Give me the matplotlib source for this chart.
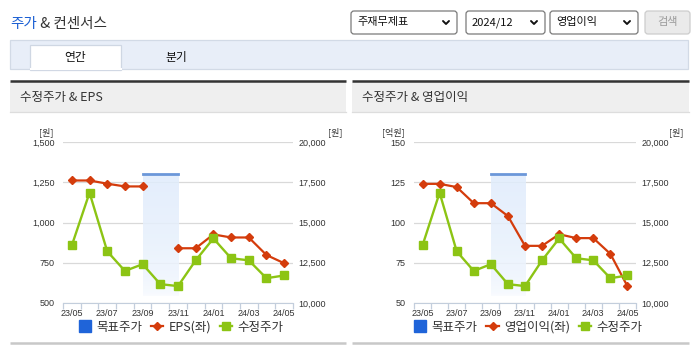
import numpy as np
import matplotlib
matplotlib.use('Agg')
import matplotlib.pyplot as plt
from matplotlib.patches import Rectangle, FancyBboxPatch
from matplotlib.lines import Line2D
from matplotlib.colors import LinearSegmentedColormap

plt.rcParams['font.family'] = ['Noto Sans CJK KR', 'DejaVu Sans']

# data
months = ['23/05', '23/06', '23/07', '23/08', '23/09', '23/10', '23/11',
          '23/12', '24/01', '24/02', '24/03', '24/04', '24/05']
price = [13580, 16850, 13210, 11990, 12410, 11170, 11050,
         12650, 14010, 12780, 12650, 11540, 11710]
eps = [1261, 1261, 1241, 1224, 1224, np.nan, 840,
       840, 926, 907, 907, 798, 747]
op_income = [124, 124, 122, 112, 112, 104, 85.5,
             85.5, 92.7, 90.3, 90.3, 80.5, 60.4]
target = [np.nan, np.nan, np.nan, np.nan, 18000, 18000, 18000,
          np.nan, np.nan, np.nan, np.nan, np.nan, np.nan]

RED = '#d43c0c'
GREEN = '#8cc414'
BLUE = '#1f64d9'
TARGET_LINE = '#6b97d9'
AXIS_C = '#c3cedc'
TXT = '#333333'

W, H = 695, 349
fig = plt.figure(figsize=(W / 100, H / 100), dpi=100)

# page frame in pixel coords
bg = fig.add_axes([0, 0, 1, 1])
bg.set_xlim(0, W)
bg.set_ylim(H, 0)
bg.axis('off')

t1 = bg.text(10, 24, '주가', color='#1b5fd3', fontsize=10.5, va='center')
bg.annotate(' & 컨센서스', xy=(1, 0.5), xycoords=t1, va='center',
            fontsize=10.5, color=TXT)

# select boxes
for x0, x1, label in [(351, 457, '주재무제표'), (466, 545, '2024/12'),
                      (550, 638, '영업이익')]:
    bg.add_patch(FancyBboxPatch((x0, 11), x1 - x0, 23,
                                boxstyle='round,pad=0,rounding_size=3',
                                fc='white', ec='#7a7a7a', lw=0.9))
    bg.text(x0 + 6, 22.5, label, fontsize=8, va='center', color='#111111')
    cx = x1 - 11
    bg.plot([cx - 3, cx, cx + 3], [21, 24, 21], color='#111111', lw=1.4,
            solid_capstyle='round')
bg.add_patch(FancyBboxPatch((645, 11), 45, 23,
                            boxstyle='round,pad=0,rounding_size=3',
                            fc='#eaeaea', ec='#cccccc', lw=0.9))
bg.text(667.5, 22.5, '검색', fontsize=8, va='center', ha='center', color='#9a9a9a')

# tab bar
bg.add_patch(Rectangle((10, 40), 678, 29, fc='#e8eef8', ec='#d2dae6', lw=0.9))
bg.add_patch(Rectangle((30, 45), 91, 24.5, fc='white', ec='#cfd7e3', lw=0.9))
bg.plot([30.5, 120.5], [69, 69], color='white', lw=1.5)
bg.text(75.5, 57, '연간', fontsize=8.5, ha='center', va='center', color='#111111')
bg.text(176, 57, '분기', fontsize=8.5, ha='center', va='center', color='#111111')

# panels
for x0, x1, title in [(10, 346, '수정주가 & EPS'), (352, 689, '수정주가 & 영업이익')]:
    bg.add_patch(Rectangle((x0, 82), x1 - x0, 30, fc='#efefef', ec='none'))
    bg.plot([x0, x1], [81, 81], color='#333333', lw=1.8, solid_capstyle='butt')
    bg.plot([x0, x1], [112, 112], color='#dddddd', lw=0.9)
    bg.plot([x0, x1], [343, 343], color='#c8c8c8', lw=1.8, solid_capstyle='butt')
    bg.text(x0 + 10, 97, title, fontsize=9, va='center', color=TXT)

grad_cmap = LinearSegmentedColormap.from_list('tg', ['#ffffff', '#e0ecfc'])
x = np.arange(len(months))


def draw_chart(left, right, vals, ylim, yticks, unit_l, name, legend_x):
    ax = fig.add_axes([left / W, 1 - 303 / H, (right - left) / W, 161 / H])
    ax2 = ax.twinx()
    ax2.set_xlim(-0.5, len(months) - 0.5)
    ax2.set_ylim(10000, 20000)

    # target price band (drawn on left axes, in price units, so it sits under the lines)
    tg = np.array(target, dtype=float)
    idx = np.where(~np.isnan(tg))[0]
    x0, x1 = idx[0], idx[-1]
    level = np.nanmax(tg)
    grad = (np.linspace(0, 1, 100) ** 0.35).reshape(-1, 1)
    ax.imshow(grad, extent=[x0, x1, 10400, level], aspect='auto', origin='lower',
              cmap=grad_cmap, alpha=0.85, zorder=0.6, transform=ax2.transData)
    ax.plot(x[idx], tg[idx], color=TARGET_LINE, lw=2, zorder=1,
            transform=ax2.transData)

    ax.plot(x, vals, color=RED, lw=1.6, marker='D', ms=4, zorder=3)
    ax2.plot(x, price, color=GREEN, lw=1.7, marker='s', ms=6, zorder=3)

    ax.set_xlim(-0.5, len(months) - 0.5)
    ax.set_ylim(*ylim)
    ax.set_yticks(yticks, labels=['{:,}'.format(v) for v in yticks])
    rt = [10000, 12500, 15000, 17500, 20000]
    ax2.set_yticks(rt, labels=['{:,}'.format(v) for v in rt])
    ax.set_xticks(x[::2], labels=months[::2])
    ax.set_xticks(np.arange(-0.5, len(months), 1), minor=True)

    for a in (ax, ax2):
        for s in a.spines.values():
            s.set_visible(False)
    ax.spines['bottom'].set_visible(True)
    ax.spines['bottom'].set_color(AXIS_C)
    ax.grid(axis='y', color='#d9d9d9', lw=0.9)
    ax.set_axisbelow(True)
    ax.tick_params(axis='y', length=0, pad=6, labelsize=6.5, labelcolor=TXT,
                   labelfontfamily='Liberation Sans')
    ax2.tick_params(axis='y', length=0, pad=4, labelsize=6.5, labelcolor=TXT,
                    labelfontfamily='Liberation Sans')
    ax.tick_params(axis='x', which='major', length=0, pad=4, labelsize=6.5,
                   labelcolor=TXT, labelfontfamily='Liberation Sans')
    ax.tick_params(axis='x', which='minor', length=4, color=AXIS_C, width=0.9)

    ax.text(-0.042, 1.062, unit_l, transform=ax.transAxes, ha='right', va='center',
            fontsize=6.5, color=TXT)
    ax.text(1.215, 1.062, '[원]', transform=ax.transAxes, ha='right', va='center',
            fontsize=6.5, color=TXT)

    handles = [Line2D([], [], color=BLUE, marker='s', ls='none', ms=8),
               Line2D([], [], color=RED, marker='D', ms=4, lw=1.6),
               Line2D([], [], color=GREEN, marker='s', ms=6, lw=1.7)]
    fig.legend(handles, ['목표주가', name, '수정주가'], loc='center',
               bbox_to_anchor=(legend_x / W, 1 - 327 / H), ncol=3, frameon=False,
               fontsize=9, handlelength=1.0, handletextpad=0.4,
               columnspacing=0.7, labelcolor=TXT)


draw_chart(63, 293, eps, (500, 1500), [500, 750, 1000, 1250, 1500], '[원]',
           'EPS(좌)', 181)
draw_chart(414, 636, op_income, (50, 150), [50, 75, 100, 125, 150], '[억원]',
           '영업이익(좌)', 528)

fig.savefig('out.png', dpi=100)
